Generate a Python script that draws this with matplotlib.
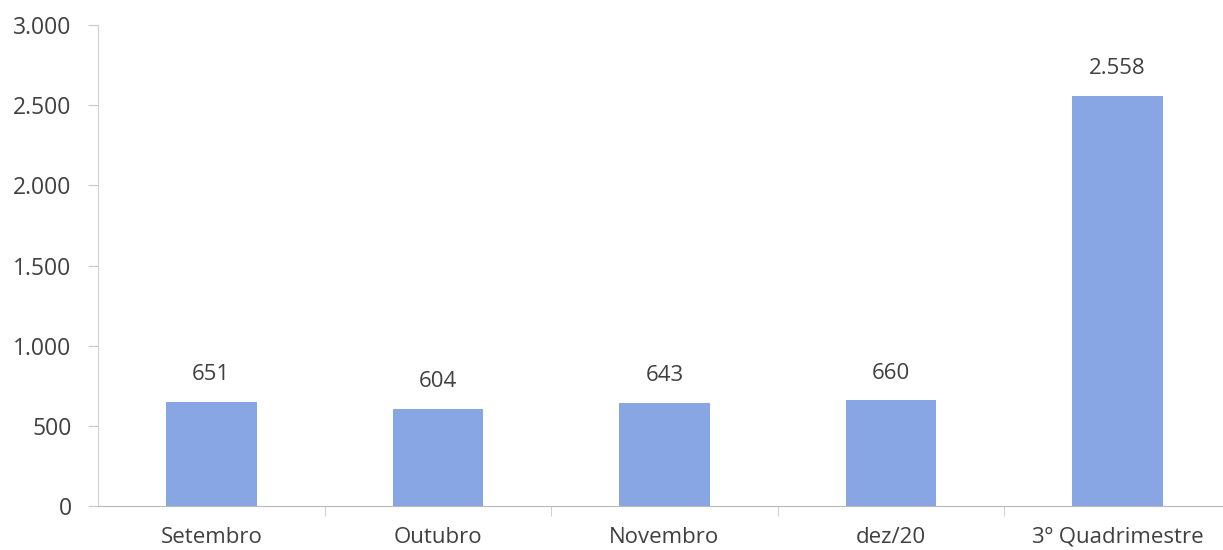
import matplotlib
matplotlib.use("Agg")
import matplotlib.pyplot as plt
import numpy as np
from matplotlib.ticker import FuncFormatter

categorias = ["Setembro", "Outubro", "Novembro", "dez/20", "3º Quadrimestre"]
valores = [651, 604, 643, 660, 2558]
y_ticks = [0, 500, 1000, 1500, 2000, 2500, 3000]

plt.rcParams['font.family'] = ['Open Sans', 'DejaVu Sans']

fig = plt.figure(figsize=(12.23, 5.5), dpi=100)
ax = fig.add_axes([0.0801, 0.08, 0.9264, 0.8745])

x = np.arange(len(categorias))
barras = ax.bar(x, valores, width=0.4, color="#88A5E4")

def fmt(v):
    return f"{v:,.0f}".replace(",", ".")

for b, v in zip(barras, valores):
    ax.annotate(fmt(v), (b.get_x() + b.get_width() / 2, v),
                xytext=(0, 12), textcoords="offset points",
                ha="center", va="bottom", fontsize=16, color="#404040")

ax.set_xlim(-0.5, len(categorias) - 0.5)
ax.set_ylim(0, 3000)
ax.set_yticks(y_ticks)
ax.yaxis.set_major_formatter(FuncFormatter(lambda v, p: fmt(v)))
ax.set_xticks(x)
ax.set_xticklabels(categorias)
ax.set_xticks(np.arange(len(categorias) - 1) + 0.5, minor=True)

ax.tick_params(axis="x", which="major", length=0, pad=15, labelsize=16, labelcolor="#404040")
ax.tick_params(axis="x", which="minor", length=7, color="#c8c8c8")
ax.tick_params(axis="y", length=7, color="#c8c8c8", pad=12, labelsize=16.5, labelcolor="#404040")

for s in ["top", "right"]:
    ax.spines[s].set_visible(False)
ax.spines["left"].set_color("#d0d0d0")
ax.spines["bottom"].set_color("#b8b8b8")

fig.savefig("out.png", dpi=100)
